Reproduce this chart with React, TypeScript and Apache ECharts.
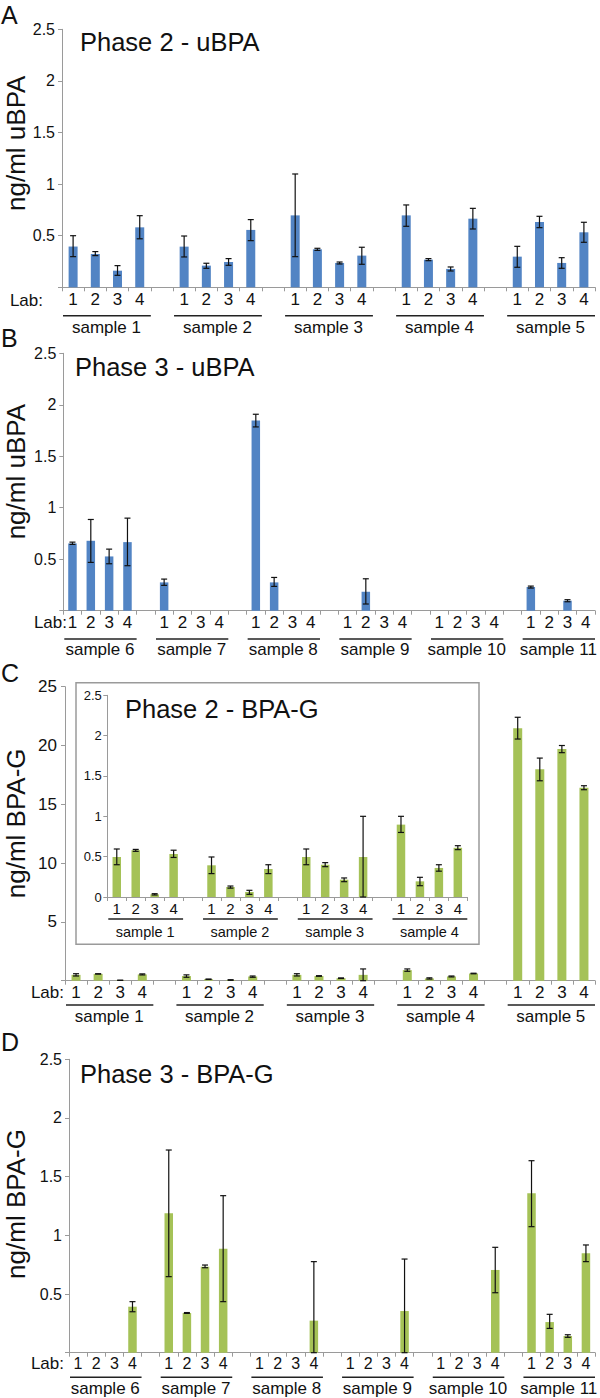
import React, { useEffect, useRef } from 'react';
import * as echarts from 'echarts';

const FONT = '"Liberation Sans", Arial, Helvetica, sans-serif';
const BLUE = '#5284c4';
const GREEN = '#a5c257';
const AXIS = '#9a9a9a';

const LABS = ['1', '2', '3', '4'];
const PHASE2_SAMPLES = ['sample 1', 'sample 2', 'sample 3', 'sample 4', 'sample 5'];
const INSET_SAMPLES = ['sample 1', 'sample 2', 'sample 3', 'sample 4'];
const PHASE3_SAMPLES = ['sample 6', 'sample 7', 'sample 8', 'sample 9', 'sample 10', 'sample 11'];

// Panel A: Phase 2 - uBPA (labs 1-4 for samples 1-5)
const aMean = [0.395, 0.323, 0.161, 0.581, 0.394, 0.21, 0.245, 0.556, 0.697, 0.368, 0.236, 0.307, 0.697, 0.268, 0.178, 0.665, 0.297, 0.633, 0.236, 0.533];
const aLow = [0.297, 0.307, 0.116, 0.47, 0.294, 0.184, 0.213, 0.452, 0.297, 0.358, 0.226, 0.223, 0.591, 0.258, 0.158, 0.565, 0.194, 0.578, 0.184, 0.436];
const aHigh = [0.5, 0.346, 0.21, 0.694, 0.497, 0.233, 0.278, 0.656, 1.098, 0.378, 0.245, 0.388, 0.798, 0.278, 0.197, 0.765, 0.397, 0.688, 0.287, 0.63];

// Panel B: Phase 3 - uBPA (samples 6-11)
const bMean = [0.653, 0.679, 0.527, 0.666, 0.275, null, null, null, 1.847, 0.275, null, null, null, 0.184, null, null, null, null, null, null, 0.23, null, 0.097, null];
const bLow = [0.644, 0.469, 0.456, 0.437, 0.246, null, null, null, 1.785, 0.236, null, null, null, 0.065, null, null, null, null, null, null, 0.22, null, 0.087, null];
const bHigh = [0.666, 0.886, 0.598, 0.899, 0.307, null, null, null, 1.908, 0.323, null, null, null, 0.31, null, null, null, null, null, null, 0.239, null, 0.107, null];

// Panel C inset: Phase 2 - BPA-G (samples 1-4)
const gMean = [0.496, 0.58, 0.033, 0.533, 0.393, 0.124, 0.062, 0.347, 0.496, 0.4, 0.215, 0.496, 0.897, 0.194, 0.36, 0.61];
const gLow = [0.4, 0.566, 0.025, 0.49, 0.29, 0.11, 0.033, 0.29, 0.4, 0.376, 0.19, 0, 0.8, 0.14, 0.32, 0.587];
const gHigh = [0.595, 0.59, 0.041, 0.58, 0.496, 0.136, 0.083, 0.4, 0.595, 0.426, 0.236, 1.0, 1.0, 0.244, 0.4, 0.636];
// Panel C main: sample 5 BPA-G
const s5Mean = [21.46, 17.97, 19.7, 16.41];
const s5Low = [20.55, 17.0, 19.39, 16.24];
const s5High = [22.4, 18.93, 20.0, 16.58];

// Panel D: Phase 3 - BPA-G (samples 6-11)
const dMean = [null, null, null, 0.392, 1.188, 0.338, 0.733, 0.886, null, null, null, 0.273, null, null, null, 0.355, null, null, null, 0.705, 1.358, 0.261, 0.142, 0.847];
const dLow = [null, null, null, 0.349, 0.648, 0.335, 0.724, 0.435, null, null, null, 0, null, null, null, 0, null, null, null, 0.511, 1.074, 0.207, 0.131, 0.776];
const dHigh = [null, null, null, 0.435, 1.727, 0.342, 0.747, 1.338, null, null, null, 0.776, null, null, null, 0.798, null, null, null, 0.898, 1.636, 0.327, 0.153, 0.918];

function catsFor(n: number) {
  const c: string[] = [];
  for (let s = 0; s < n; s++) {
    if (s > 0) c.push('');
    LABS.forEach((l) => c.push(l));
  }
  return c;
}
const idxOf = (i: number) => Math.floor(i / 4) * 5 + (i % 4);
function barsFor(mean: (number | null)[], n: number) {
  const d: (number | null)[] = new Array(n * 5 - 1).fill(null);
  mean.forEach((v, i) => { d[idxOf(i)] = v; });
  return d;
}
function errsFor(mean: (number | null)[], lo: (number | null)[], hi: (number | null)[]) {
  const out: number[][] = [];
  mean.forEach((v, i) => { if (v != null) out.push([idxOf(i), lo[i] as number, hi[i] as number]); });
  return out;
}
function groupsFor(n: number) {
  return Array.from({ length: n }, (_, s) => [s * 5, s * 5 + 3]);
}

const errRender = (params: any, api: any) => {
  const x = api.value(0);
  const lo = api.coord([x, api.value(1)]);
  const hi = api.coord([x, api.value(2)]);
  const cap = 3;
  const st = { stroke: '#111', lineWidth: 1.2 };
  return {
    type: 'group',
    children: [
      { type: 'line', shape: { x1: lo[0], y1: lo[1], x2: hi[0], y2: hi[1] }, style: st },
      { type: 'line', shape: { x1: lo[0] - cap, y1: lo[1], x2: lo[0] + cap, y2: lo[1] }, style: st },
      { type: 'line', shape: { x1: hi[0] - cap, y1: hi[1], x2: hi[0] + cap, y2: hi[1] }, style: st },
    ],
  };
};

const groupRender = (names: string[], lineOff: number, textOff: number, fontSize: number) => (params: any, api: any) => {
  const s = api.value(0);
  const e = api.value(1);
  const bw = api.size([1, 0])[0];
  const p0 = api.coord([s, 0]);
  const p1 = api.coord([e, 0]);
  const x0 = p0[0] - bw / 2;
  const x1 = p1[0] + bw / 2;
  const y = p0[1] + lineOff;
  return {
    type: 'group',
    children: [
      { type: 'line', shape: { x1: x0 + 1, y1: y, x2: x1, y2: y }, style: { stroke: '#222', lineWidth: 1.5 } },
      {
        type: 'text',
        x: (x0 + x1) / 2,
        y: y + textOff,
        style: {
          text: names[params.dataIndex], fontSize, fontFamily: FONT, fill: '#111',
          align: 'center', verticalAlign: 'middle', textAlign: 'center', textVerticalAlign: 'middle',
        },
      },
    ],
  };
};

function panelSeries(gi: number, bars: any[], errs: number[][], color: string, barWidth: number, groups: number[][], names: string[], lineOff: number, textOff: number, fs: number) {
  return [
    { type: 'bar', xAxisIndex: gi, yAxisIndex: gi, data: bars, barWidth, itemStyle: { color }, silent: true },
    { type: 'custom', xAxisIndex: gi, yAxisIndex: gi, data: errs, renderItem: errRender, encode: { x: 0, y: [1, 2] }, clip: false, silent: true, z: 3 },
    { type: 'custom', xAxisIndex: gi, yAxisIndex: gi, data: groups, renderItem: groupRender(names, lineOff, textOff, fs), encode: { x: [0, 1] }, clip: false, silent: true },
  ];
}

function xAxisFor(gi: number, cats: string[], fontSize: number, margin: number) {
  return {
    type: 'category', gridIndex: gi, data: cats,
    axisLine: { lineStyle: { color: AXIS, width: 1 } },
    axisTick: { show: true, interval: 0, length: 4, lineStyle: { color: AXIS } },
    axisLabel: { interval: 0, color: '#111', fontSize, fontFamily: FONT, margin },
    splitLine: { show: false },
  };
}
function yAxisFor(gi: number, max: number, interval: number, fontSize: number, margin: number, showZero: boolean) {
  return {
    type: 'value', gridIndex: gi, min: 0, max, interval,
    axisLine: { show: true, lineStyle: { color: AXIS, width: 1 } },
    axisTick: { show: true, length: 4, lineStyle: { color: AXIS } },
    axisLabel: { color: '#111', fontSize, fontFamily: FONT, margin, formatter: (v: number) => (v === 0 && !showZero ? '' : String(v)) },
    splitLine: { show: false },
  };
}

const txt = (text: string, x: number, y: number, fontSize: number, extra: any = {}) => ({
  type: 'text', x, y, ...extra,
  style: { text, fontSize, fontFamily: FONT, fill: '#111', align: extra.align || 'left', verticalAlign: 'middle', textAlign: extra.align || 'left', textVerticalAlign: 'middle' },
});

export default function App() {
  const ref = useRef<HTMLDivElement>(null);
  useEffect(() => {
    if (!ref.current) return;
    const chart = echarts.init(ref.current, undefined, { renderer: 'svg' });
    const cA = catsFor(5), cB = catsFor(6), cC = catsFor(5), cI = catsFor(4), cD = catsFor(6);
    const cMean = [...gMean, ...s5Mean], cLow = [...gLow, ...s5Low], cHigh = [...gHigh, ...s5High];
    const option: any = {
      animation: false,
      backgroundColor: '#fff',
      grid: [
        { left: 62, top: 29.3, width: 533, height: 258 },
        { left: 63.3, top: 353.3, width: 531.7, height: 257.4 },
        { left: 65, top: 686.7, width: 530, height: 294 },
        { left: 107.3, top: 695.3, width: 360, height: 201.7 },
        { left: 69, top: 1059.3, width: 526, height: 293.4 },
      ],
      xAxis: [
        xAxisFor(0, cA, 17, 4),
        xAxisFor(1, cB, 17, 3),
        xAxisFor(2, cC, 17, 3),
        xAxisFor(3, cI, 15, 4),
        xAxisFor(4, cD, 16, 3),
      ],
      yAxis: [
        yAxisFor(0, 2.5, 0.5, 16, 7, false),
        yAxisFor(1, 2.5, 0.5, 16, 7, false),
        yAxisFor(2, 25, 5, 17, 8, false),
        yAxisFor(3, 2.5, 0.5, 13, 5.5, true),
        yAxisFor(4, 2.5, 0.5, 16, 7, false),
      ],
      series: [
        ...panelSeries(0, barsFor(aMean, 5), errsFor(aMean, aLow, aHigh), BLUE, 9, groupsFor(5), PHASE2_SAMPLES, 28.4, 11.5, 17),
        ...panelSeries(1, barsFor(bMean, 6), errsFor(bMean, bLow, bHigh), BLUE, 8.5, groupsFor(6), PHASE3_SAMPLES, 28.3, 10.5, 17),
        ...panelSeries(2, barsFor(cMean, 5), errsFor(cMean, cLow, cHigh), GREEN, 9, groupsFor(5), PHASE2_SAMPLES, 24.3, 11.5, 17),
        ...panelSeries(3, barsFor(gMean, 4), errsFor(gMean, gLow, gHigh), GREEN, 8.5, groupsFor(4), INSET_SAMPLES, 22, 12.5, 14.5),
        ...panelSeries(4, barsFor(dMean, 6), errsFor(dMean, dLow, dHigh), GREEN, 8.5, groupsFor(6), PHASE3_SAMPLES, 24.6, 11, 17),
      ],
      graphic: [
        { type: 'rect', shape: { x: 76, y: 682.7, width: 403, height: 261.6 }, style: { fill: 'transparent', stroke: AXIS, lineWidth: 1.5 }, z: -1 },
        txt('A', 1, 15, 25),
        txt('B', 1, 338, 25),
        txt('C', 1, 673, 25),
        txt('D', 1, 1042, 25),
        txt('Phase 2 - uBPA', 80, 42, 25.5),
        txt('Phase 3 - uBPA', 75, 366.5, 25.5),
        txt('Phase 2 - BPA-G', 125, 708.5, 25.5),
        txt('Phase 3 - BPA-G', 80, 1073.5, 25.5),
        txt('ng/ml uBPA', 16, 143.3, 26, { rotation: Math.PI / 2, align: 'center' }),
        txt('ng/ml uBPA', 16, 471.7, 26, { rotation: Math.PI / 2, align: 'center' }),
        txt('ng/ml BPA-G', 16, 823.3, 26, { rotation: Math.PI / 2, align: 'center' }),
        txt('ng/ml BPA-G', 16, 1204, 26, { rotation: Math.PI / 2, align: 'center' }),
        txt('Lab:', 43, 300.5, 17, { align: 'right' }),
        txt('Lab:', 67, 622, 17, { align: 'right' }),
        txt('Lab:', 64, 992, 17, { align: 'right' }),
        txt('Lab:', 64, 1363.5, 17, { align: 'right' }),
      ],
    };
    chart.setOption(option);
    return () => chart.dispose();
  }, []);
  return <div ref={ref} style={{ position: 'absolute', left: 0, top: 0, width: 600, height: 1398, background: '#fff' }} />;
}
